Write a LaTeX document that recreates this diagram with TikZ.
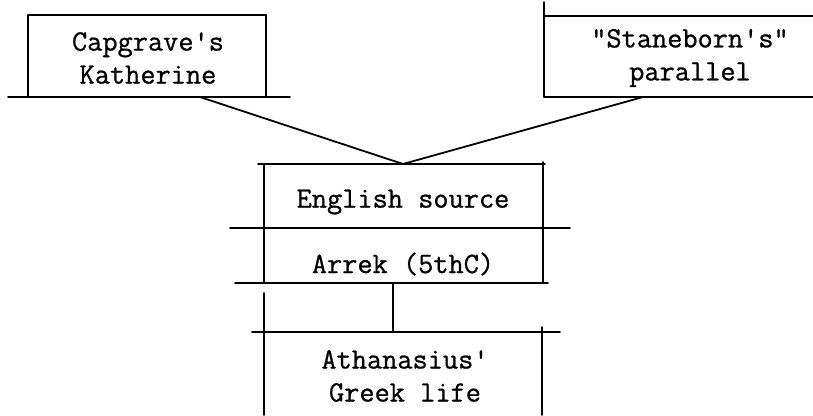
\documentclass[tikz,border=0pt]{standalone}
\usepackage{fontspec}
\newfontfamily\typew{Latin Modern Mono}[FakeBold=0.8]
\begin{document}
\begin{tikzpicture}[x=1pt,y=-1pt,
  rule/.style={line width=1.8pt,line cap=round},
  link/.style={line width=1.8pt},
  label/.style={font=\typew\fontsize{29.5}{33}\selectfont,align=center,inner sep=0pt}]
\useasboundingbox (0,0) rectangle (813,415);

% left box: Capgrave
\draw[rule] (8,97) -- (290,97);
\draw[rule] (28,15) -- (266,15);
\draw[rule] (28,15) -- (28,97);
\draw[rule] (266,15) -- (266,97);
\node[label] (cap) at (148,58) {Capgrave's\\Katherine};
\coordinate (capb) at (200,97);

% right box: Staneborn
\draw[rule] (544,2) -- (544,97);
\draw[rule] (544,16) -- (813,16);
\draw[rule] (544,97) -- (813,97);
\node[label] (stan) at (690,58) {"Staneborn's"\\parallel};
\coordinate (stanb) at (643,97);

% middle box: English source / Arrek
\draw[rule] (258,164) -- (545,164);
\draw[rule] (264,164) -- (264,283);
\draw[rule] (543,162) -- (543,283);
\draw[rule] (230,228) -- (570,228);
\draw[rule] (235,283) -- (548,283);
\node[label] (eng) at (403,202) {English source};
\node[label] (arr) at (403,264) {Arrek (5thC)};
\coordinate (engt) at (403,164);
\coordinate (arrb) at (393,283);

% bottom box: Athanasius
\draw[rule] (252,332) -- (560,332);
\draw[rule] (264,293) -- (264,415);
\draw[rule] (542,327) -- (542,415);
\node[label] (ath) at (405,376) {Athanasius'\\Greek life};
\coordinate (atht) at (393,332);

% connectors
\draw[link] (capb) -- (engt);
\draw[link] (stanb) -- (engt);
\draw[link] (arrb) -- (atht);
\end{tikzpicture}
\end{document}
